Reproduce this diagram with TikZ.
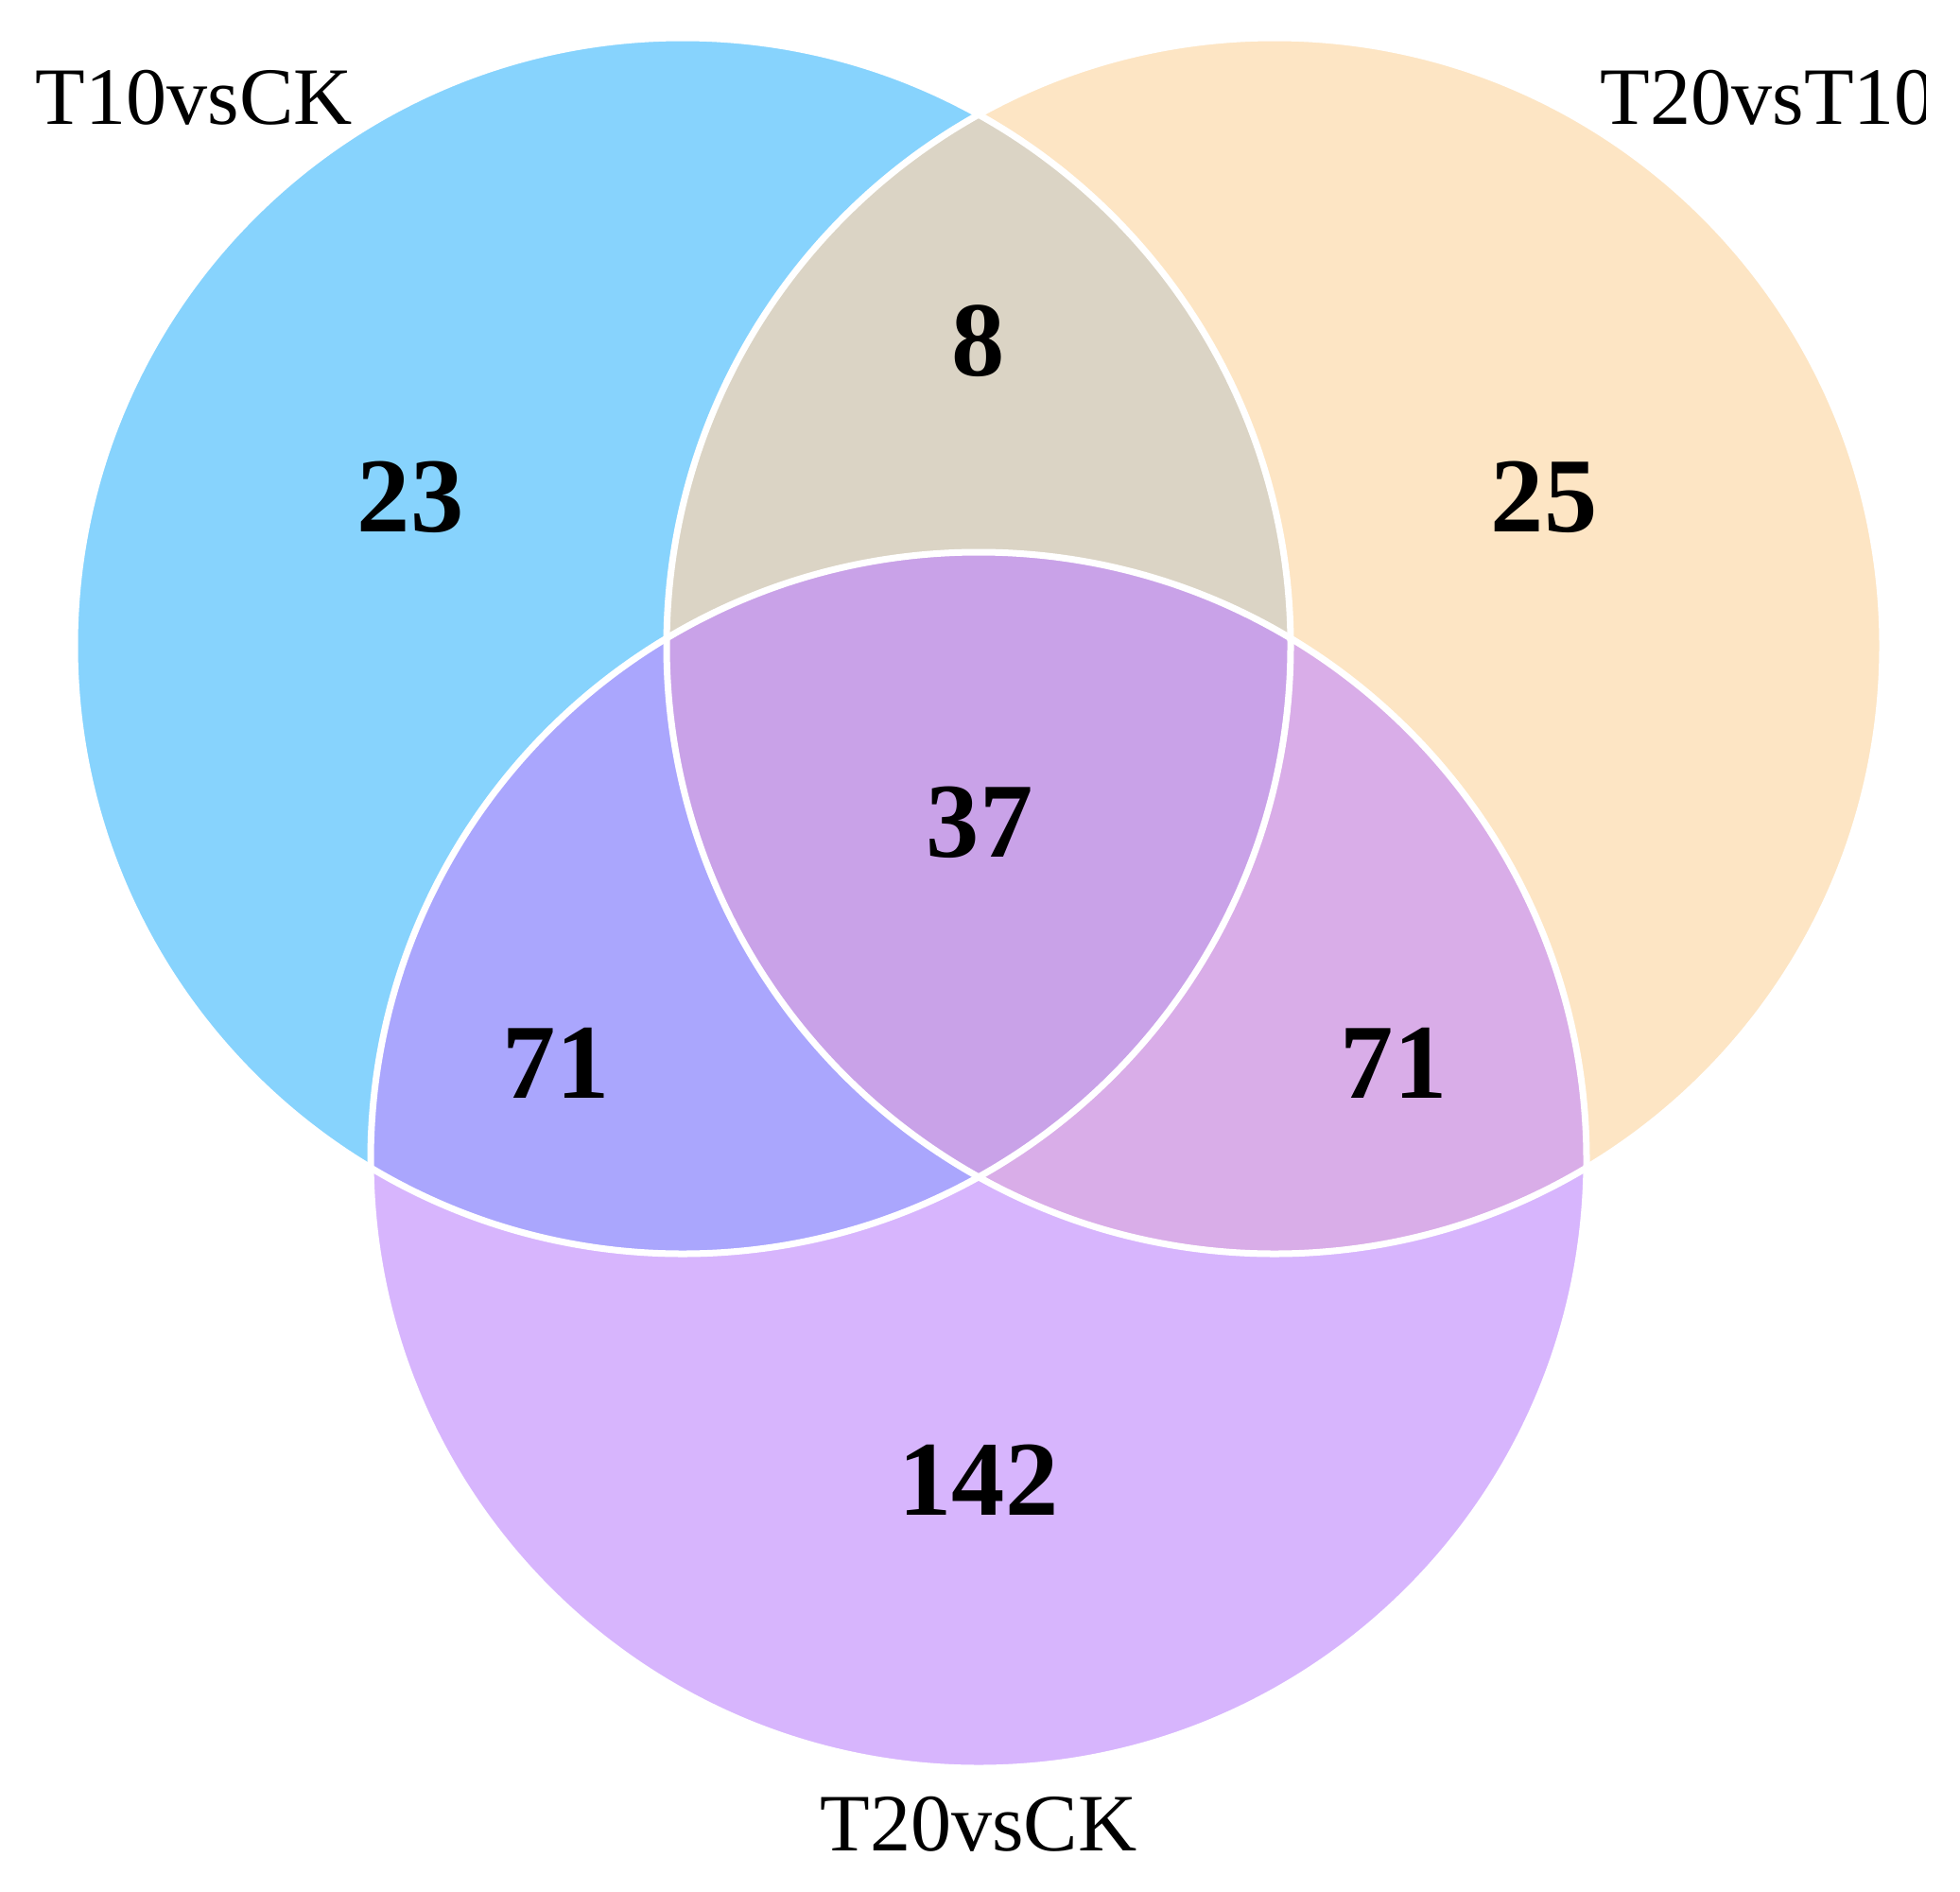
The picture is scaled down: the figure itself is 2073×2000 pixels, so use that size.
\documentclass[tikz,border=0pt]{standalone}
\usepackage{fontspec}
\setmainfont{Liberation Serif}
\definecolor{colA}{RGB}{135,211,253}
\definecolor{colB}{RGB}{253,229,196}
\definecolor{colC}{RGB}{215,181,253}
\definecolor{colAB}{RGB}{219,212,197}
\definecolor{colAC}{RGB}{170,166,253}
\definecolor{colBC}{RGB}{217,173,232}
\definecolor{colABC}{RGB}{201,162,232}
\begin{document}
\begin{tikzpicture}[x=0.01cm,y=-0.01cm,
  lbl/.style={font=\fontsize{24.5}{29}\selectfont, inner sep=0pt},
  num/.style={font=\fontsize{32}{38}\selectfont\bfseries, inner sep=0pt, anchor=base},
  rim/.style={draw=white, line width=0.07cm}]
\useasboundingbox (0,0) rectangle (2073,2000);
\def\R{643}
\coordinate (A) at (722,683);
\coordinate (B) at (1348,683);
\coordinate (C) at (1035,1227);
% single sets
\fill[colA] (A) circle[radius=\R];
\fill[colB] (B) circle[radius=\R];
\fill[colC] (C) circle[radius=\R];
% pairwise
\begin{scope}
  \clip (A) circle[radius=\R];
  \fill[colAB] (B) circle[radius=\R];
  \fill[colAC] (C) circle[radius=\R];
\end{scope}
\begin{scope}
  \clip (B) circle[radius=\R];
  \fill[colBC] (C) circle[radius=\R];
\end{scope}
\begin{scope}
  \clip (A) circle[radius=\R];
  \clip (B) circle[radius=\R];
  \fill[colABC] (C) circle[radius=\R];
\end{scope}
% outlines
\draw[rim] (A) circle[radius=\R];
\draw[rim] (B) circle[radius=\R];
\draw[rim] (C) circle[radius=\R];
% counts
\node[num] (n23) at (434,562) {23};
\node[num] (n25) at (1633,562) {25};
\node[num] (n8) at (1035,397) {8};
\node[num] (n37) at (1036,906) {37};
\node[num] (n71a) at (588,1161) {71};
\node[num] (n71b) at (1474,1161) {71};
\node[num] (n142) at (1035,1602) {142};
% labels
\node[lbl, anchor=base west] (lA) at (37,132) {T10vsCK};
\begin{scope}
  \clip (0,0) rectangle (2036,2000);
  \node[lbl, anchor=base west] (lB) at (1692,132) {T20vsT10};
\end{scope}
\node[lbl, anchor=base] (lC) at (1035,1957) {T20vsCK};
\end{tikzpicture}
\end{document}
